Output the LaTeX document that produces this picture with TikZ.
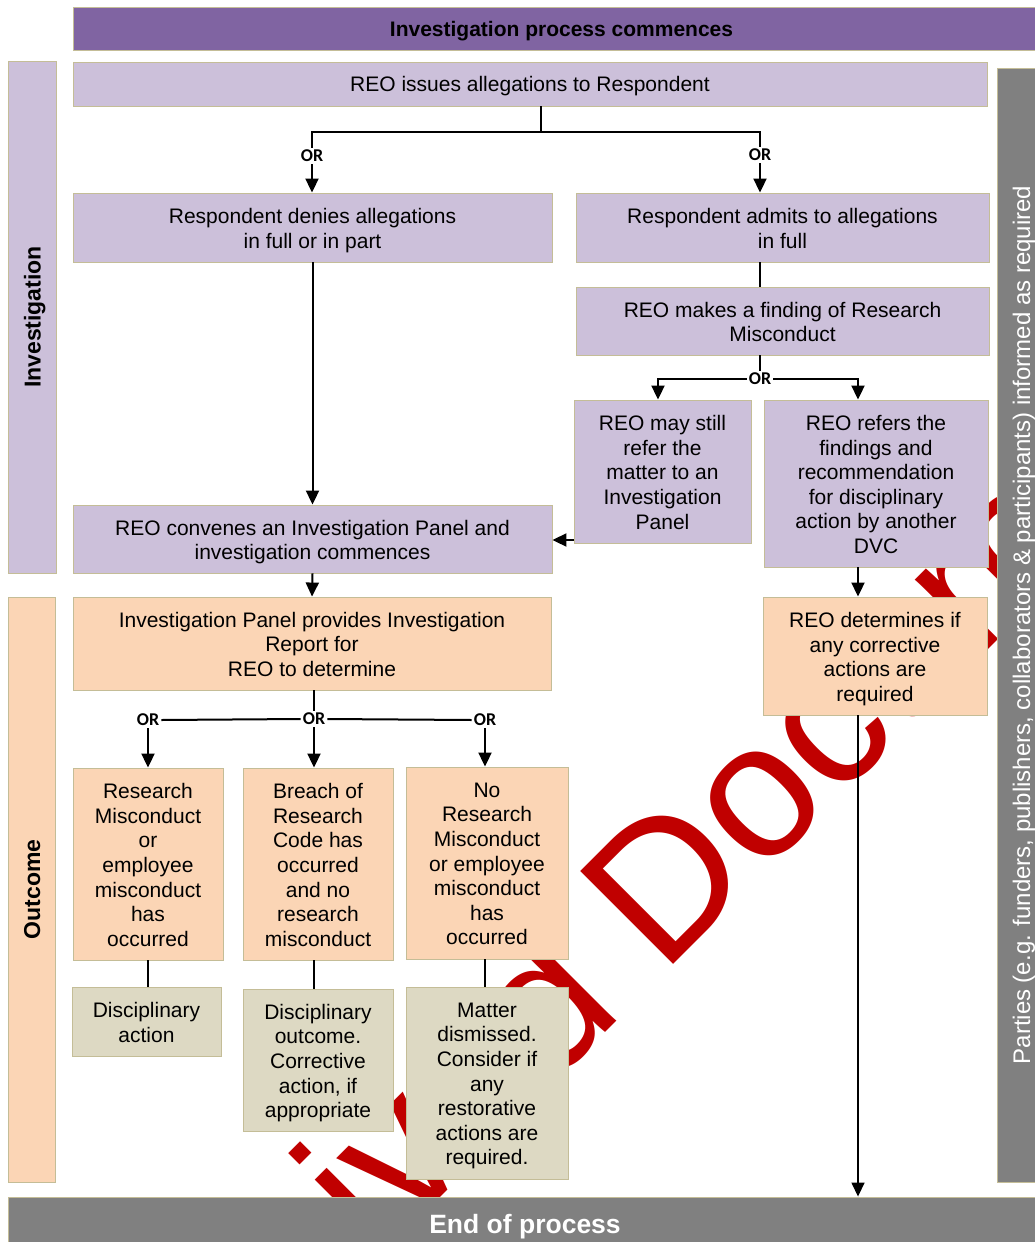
\documentclass[tikz,border=0pt]{standalone}
\usepackage{fontspec}
\setmainfont{Liberation Sans}
\newfontfamily\myorfamily{Carlito}
\usetikzlibrary{arrows.meta}
\definecolor{lav}{HTML}{CCC0DA}
\definecolor{peach}{HTML}{FBD5B5}
\definecolor{tanfill}{HTML}{DDD9C3}
\definecolor{bordc}{HTML}{C4BD97}
\definecolor{purp}{HTML}{8064A2}
\definecolor{greyb}{HTML}{808080}
\definecolor{wmred}{HTML}{C00000}
\newcommand{\mybxfont}{\fontsize{21}{24.6}\selectfont}
\newcommand{\mytitlefont}{\fontsize{21}{25}\selectfont\bfseries}
\newcommand{\mylanefont}{\fontsize{23}{27}\selectfont\bfseries}
\newcommand{\myendfont}{\fontsize{26.5}{30}\selectfont\bfseries}
\newcommand{\myrightfont}{\fontsize{24}{28}\selectfont}
\newcommand{\myorfont}{\myorfamily\fontsize{18}{20}\selectfont\bfseries}
\newcommand{\mywmfont}{\fontsize{191}{200}\selectfont}
\begin{document}
\begin{tikzpicture}[x=1pt,y=-1pt,
  box/.style={draw=bordc, line width=0.9pt, align=center, inner sep=0pt, font=\mybxfont, text=black,
    execute at begin node={\rule{0pt}{1.05em}}, execute at end node={\rule[-0.3em]{0pt}{0pt}}},
  shape box/.style={draw=bordc, line width=0.9pt, inner sep=0pt},
  lavbox/.style={shape box, fill=lav},
  peachbox/.style={shape box, fill=peach},
  tanbox/.style={shape box, fill=tanfill},
  txt/.style={align=center, inner sep=0pt, font=\mybxfont, text=black,
    execute at end node={\rule[-0.25em]{0pt}{0pt}}},
  conn/.style={line width=2pt, draw=black},
  arr/.style={conn, -{Triangle[width=13pt,length=14pt]}},
  orlab/.style={font=\myorfont, fill=white, inner sep=2pt},
  wm/.style={font=\mywmfont, text=wmred, rotate=45, anchor=base west, inner sep=0pt}]
\useasboundingbox (0,0) rectangle (1035,1242);
\clip (0,0) rectangle (1035,1242);
% watermark
\node[wm] (wm) at (662.7,975.3) {\llap{Archived\ }Document};
% bands
\node[box, fill=purp, minimum width=977pt, minimum height=43pt, font=\mytitlefont] (top) at (561.5,28.5) {Investigation process commences};
\node[box, fill=lav, rotate=90, minimum width=512pt, minimum height=48pt, font=\mylanefont] (laneI) at (32,317) {Investigation};
\node[box, fill=peach, rotate=90, minimum width=585pt, minimum height=47pt, font=\mylanefont] (laneO) at (31.5,889.5) {Outcome};
\node[box, fill=greyb, rotate=90, minimum width=1114pt, minimum height=48pt, font=\myrightfont, text=white] (parties) at (1021,625) {Parties (e.g. funders, publishers, collaborators \& participants) informed as required};
\node[box, fill=greyb, minimum width=1034pt, minimum height=53pt, font=\myendfont, text=white] (endp) at (525,1223.5) {End of process};
% boxes
\node[box, fill=lav, minimum width=914pt, minimum height=44pt] (A) at (530,84) {REO issues allegations to Respondent};
\node[lavbox, minimum width=479pt, minimum height=69pt] (B) at (312.5,227.5) {};
\node[txt] (Bt) at ([yshift=-3.5pt]B.center) {Respondent denies allegations\\in full or in part};
\node[lavbox, minimum width=413pt, minimum height=69pt] (C) at (782.5,227.5) {};
\node[txt] (Ct) at ([yshift=-3.5pt]C.center) {Respondent admits to allegations\\in full};
\node[lavbox, minimum width=413pt, minimum height=68pt] (D) at (782.5,321) {};
\node[txt] (Dt) at ([yshift=-3.5pt]D.center) {REO makes a finding of Research\\Misconduct};
\node[lavbox, minimum width=177pt, minimum height=143pt] (E) at (662.5,471.5) {};
\node[txt] (Et) at ([yshift=-3.5pt]E.center) {REO may still\\refer the\\matter to an\\Investigation\\Panel};
\node[lavbox, minimum width=224pt, minimum height=167pt] (F) at (876,483.5) {};
\node[txt] (Ft) at ([yshift=-3.5pt]F.center) {REO refers the\\findings and\\recommendation\\for disciplinary\\action by another\\DVC};
\node[lavbox, minimum width=479pt, minimum height=68pt] (G) at (312.5,539) {};
\node[txt] (Gt) at ([yshift=-3.5pt]G.center) {REO convenes an Investigation Panel and\\investigation commences};
\node[peachbox, minimum width=478pt, minimum height=93pt] (H) at (312,643.5) {};
\node[txt] (Ht) at ([yshift=-3.5pt]H.center) {Investigation Panel provides Investigation\\Report for\\REO to determine};
\node[peachbox, minimum width=224pt, minimum height=118pt] (I) at (875,656) {};
\node[txt] (It) at ([yshift=-3.5pt]I.center) {REO determines if\\any corrective\\actions are\\required};
\node[peachbox, minimum width=150pt, minimum height=192pt] (J1) at (148,864) {};
\node[txt] (J1t) at ([yshift=-3.5pt]J1.center) {Research\\Misconduct\\or\\employee\\misconduct\\has\\occurred};
\node[peachbox, minimum width=150pt, minimum height=192pt] (J2) at (318,864) {};
\node[txt] (J2t) at ([yshift=-3.5pt]J2.center) {Breach of\\Research\\Code has\\occurred\\and no\\research\\misconduct};
\node[peachbox, minimum width=162pt, minimum height=192pt] (J3) at (487,863) {};
\node[txt] (J3t) at ([yshift=-3.5pt]J3.center) {No\\Research\\Misconduct\\or employee\\misconduct\\has\\occurred};
\node[tanbox, minimum width=149pt, minimum height=69pt] (K1) at (146.5,1021.5) {};
\node[txt] (K1t) at ([yshift=-3.5pt]K1.center) {Disciplinary\\action};
\node[tanbox, minimum width=150pt, minimum height=142pt] (K2) at (318,1060) {};
\node[txt] (K2t) at ([yshift=-3.5pt]K2.center) {Disciplinary\\outcome.\\Corrective\\action, if\\appropriate};
\node[tanbox, minimum width=162pt, minimum height=192pt] (K3) at (487,1083) {};
\node[txt] (K3t) at ([yshift=-3.5pt]K3.center) {Matter\\dismissed.\\Consider if\\any\\restorative\\actions are\\required.};
% OR labels and junctions
\coordinate (j1) at (541,132);
\node[orlab] (or1) at (312,156) {OR};
\node[orlab] (or2) at (760,155) {OR};
\node[orlab] (or3) at (760,379) {OR};
\node[orlab] (or4) at (314,719) {OR};
\node[orlab] (or5) at (148,720) {OR};
\node[orlab] (or6) at (485,720) {OR};
\coordinate (ex) at (658,379);
\coordinate (fx) at (858,379);
\coordinate (eg) at (574,540);
% connectors
\draw[conn] (A.south -| j1) -- (j1);
\draw[conn] (or1.north) |- (j1) -| (or2.north);
\draw[arr] (or1.south) -- (B.north -| or1);
\draw[arr] (or2.south) -- (C.north -| or2);
\draw[conn] (C.south -| or2) -- (D.north -| or2);
\draw[conn] (D.south -| or3) -- (or3.north);
\draw[arr] (or3.west) -| (E.north -| ex);
\draw[arr] (or3.east) -| (F.north -| fx);
\draw[arr] (B.south) -- (G.north);
\draw[arr] (eg) -- (G.east |- eg);
\draw[arr] (G.south) -- (H.north);
\draw[arr] (F.south -| fx) -- (I.north -| fx);
\draw[arr, line width=1.5pt] (I.south -| fx) -- (endp.north -| fx);
\draw[conn] (H.south -| or4) -- (or4.north);
\draw[conn] (or5.east) -- (or4.west);
\draw[conn] (or4.east) -- (or6.west);
\draw[arr] (or5.south) -- (J1.north -| or5);
\draw[arr] (or4.south) -- (J2.north -| or4);
\draw[arr] (or6.south) -- (J3.north -| or6);
\draw[conn] (J1.south -| or5) -- (K1.north -| or5);
\draw[conn] (J2.south -| or4) -- (K2.north -| or4);
\draw[conn] (J3.south -| or6) -- (K3.north -| or6);
\end{tikzpicture}
\end{document}
